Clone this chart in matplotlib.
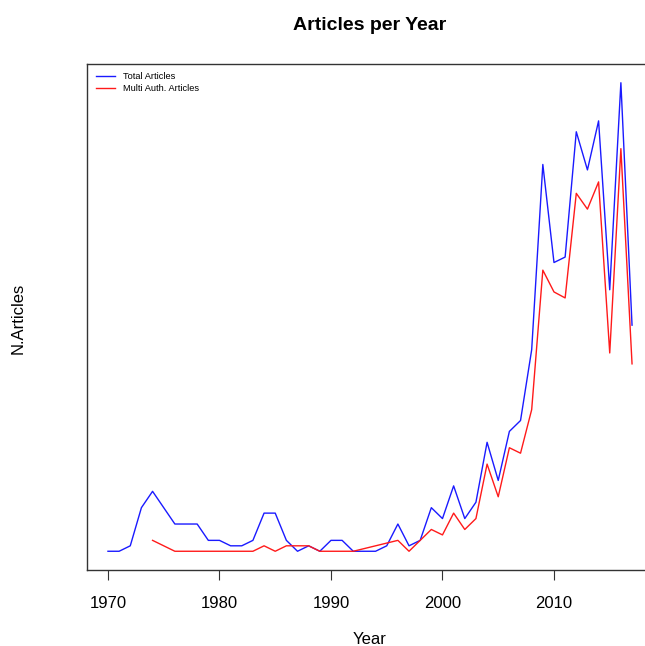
import matplotlib
matplotlib.use("Agg")
import matplotlib.pyplot as plt

plt.rcParams['font.family'] = ['Liberation Sans', 'DejaVu Sans']

# Total articles per year
years_total = list(range(1970, 2018))
total_articles = [1, 1, 2, 9, 12, 9, 6, 6, 6, 3,
                  3, 2, 2, 3, 8, 8, 3, 1, 2, 1,
                  3, 3, 1, 1, 1, 2, 6, 2, 3, 9,
                  7, 13, 7, 10, 21, 14, 23, 25, 38, 72,
                  54, 55, 78, 71, 80, 49, 87, 42.5]

# Multi-author articles per year (years with no multi-author articles absent)
years_multi = [1974, 1975, 1976, 1977, 1978, 1979, 1980, 1981, 1982, 1983,
               1984, 1985, 1986, 1987, 1988, 1989, 1990, 1991, 1992,
               1996, 1997, 1998, 1999, 2000, 2001, 2002, 2003, 2004, 2005,
               2006, 2007, 2008, 2009, 2010, 2011, 2012, 2013, 2014, 2015,
               2016, 2017]
multi_articles = [3, 2, 1, 1, 1, 1, 1, 1, 1, 1,
                  2, 1, 2, 2, 2, 1, 1, 1, 1,
                  3, 1, 3, 5, 4, 8, 5, 7, 17, 11,
                  20, 19, 27, 52.6, 48.6, 47.5, 66.7, 63.8, 68.8, 37.4,
                  74.9, 35.4]

xticks = [1970, 1980, 1990, 2000, 2010]

W, H = 645, 646
fig = plt.figure(figsize=(W / 100, H / 100), dpi=100)
ax = fig.add_axes([87 / W, (H - 570) / H, 566 / W, 506 / H])

ax.plot(years_total, total_articles, color='#1a1aff', lw=1.0, label='Total Articles')
ax.plot(years_multi, multi_articles, color='#ff1a1a', lw=1.0, label='Multi Auth. Articles')

xmin, xmax = min(years_total), max(years_total)
xr = xmax - xmin
ax.set_xlim(xmin - 0.04 * xr, xmax + 0.04 * xr)
allv = total_articles + multi_articles
ymin, ymax = min(allv), max(allv)
yr = ymax - ymin
ax.set_ylim(ymin - 0.04 * yr, ymax + 0.04 * yr)

ax.set_xticks(xticks)
ax.set_xticklabels([str(t) for t in xticks], fontsize=12)
ax.tick_params(axis='x', length=7.5, width=0.8, pad=11, color='#333333')
ax.set_yticks([])
for s in ax.spines.values():
    s.set_linewidth(1.0)
    s.set_color('#333333')

fig.text(370 / W, 1 - 26 / H, 'Articles per Year', ha='center', va='center',
         fontsize=14, fontweight='bold')
fig.text(370 / W, 1 - 639 / H, 'Year', ha='center', va='center', fontsize=12)
fig.text(18 / W, 1 - 318 / H, 'N.Articles', ha='center', va='center',
         fontsize=12, rotation=90)

leg = ax.legend(loc='upper left', bbox_to_anchor=(96 / W, 1 - 72 / H),
                bbox_transform=fig.transFigure, frameon=False, fontsize=6.7,
                handlelength=2.0, handletextpad=0.85, labelspacing=0.35,
                borderpad=0, borderaxespad=0)

fig.savefig('out.png', dpi=100)
